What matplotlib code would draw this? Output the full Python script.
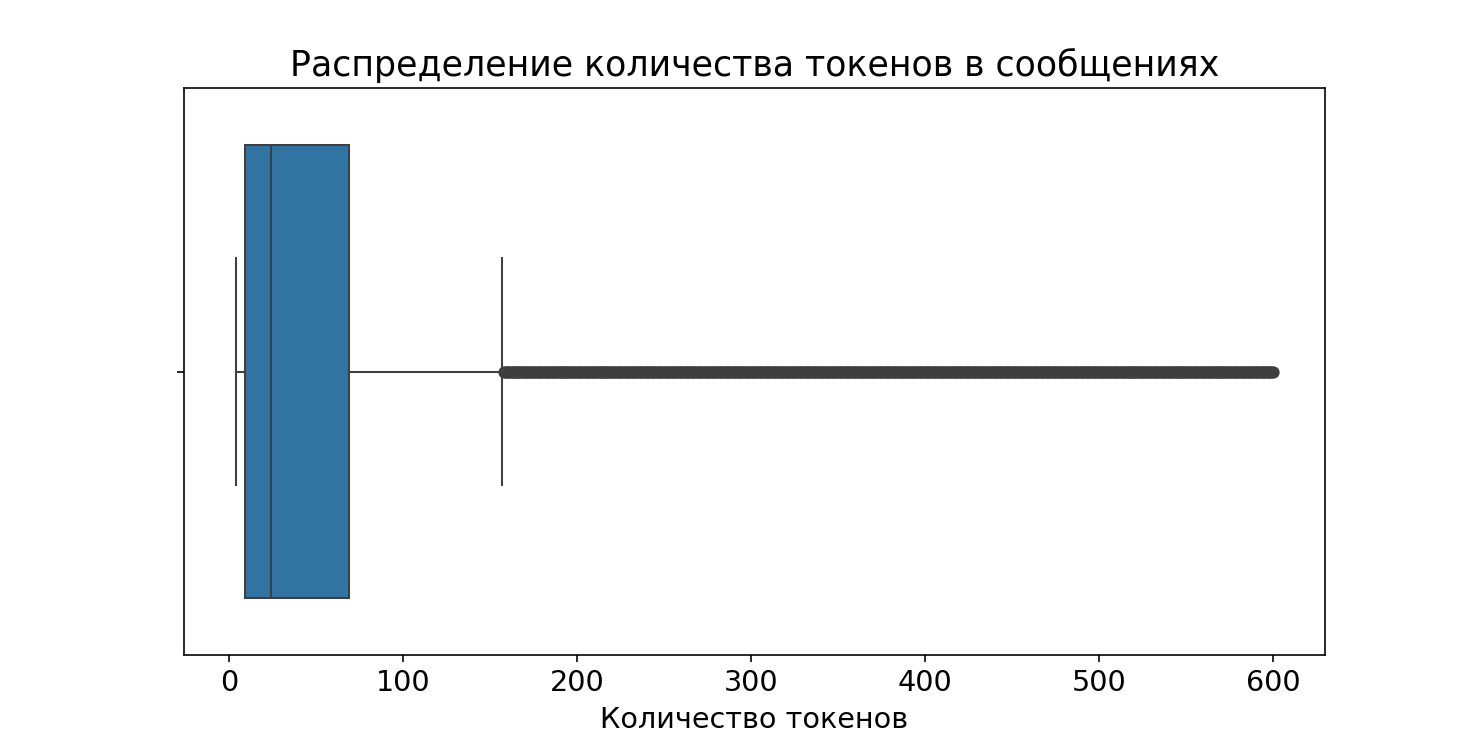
import matplotlib
matplotlib.use('Agg')
import matplotlib.pyplot as plt
import numpy as np

WHISKER_LOW  = 4
Q1           = 9
MEDIAN       = 24
Q3           = 69
WHISKER_HIGH = 157
# Выбросы: каждое целое количество токенов от 158 до 600 встречается в данных
OUTLIER_MIN  = 158
OUTLIER_MAX  = 600

TITLE   = "Распределение количества токенов в сообщениях"
X_LABEL = "Количество токенов"

BOX_COLOR  = "#3274a1"
LINE_COLOR = "#3f3f3f"
DPI        = 147.2


def build_stats():
    fliers = np.arange(OUTLIER_MIN, OUTLIER_MAX + 1)
    return [{
        "whislo": WHISKER_LOW,
        "q1":     Q1,
        "med":    MEDIAN,
        "q3":     Q3,
        "whishi": WHISKER_HIGH,
        "fliers": fliers,
    }]


def main():
    fig, ax = plt.subplots(figsize=(10, 5), dpi=DPI)

    line_props = dict(color=LINE_COLOR, linewidth=1.0)
    ax.bxp(
        build_stats(),
        positions=[0],
        widths=0.8,
        capwidths=0.4,
        orientation='horizontal',
        patch_artist=True,
        showfliers=True,
        boxprops=dict(facecolor=BOX_COLOR, edgecolor=LINE_COLOR, linewidth=1.0),
        medianprops=line_props,
        whiskerprops=line_props,
        capprops=line_props,
        flierprops=dict(marker='o', markersize=5, markerfacecolor=LINE_COLOR,
                        markeredgecolor=LINE_COLOR, linestyle='none'),
    )

    ax.set_ylim(0.5, -0.5)
    ax.set_yticks([0])
    ax.set_yticklabels([""])
    ax.set_xticks([0, 100, 200, 300, 400, 500, 600])
    ax.tick_params(axis='x', labelsize=14)

    ax.set_title(TITLE, fontsize=17)
    ax.set_xlabel(X_LABEL, fontsize=14)

    plt.savefig("out.png", dpi=DPI)
    plt.close(fig)


if __name__ == "__main__":
    main()
